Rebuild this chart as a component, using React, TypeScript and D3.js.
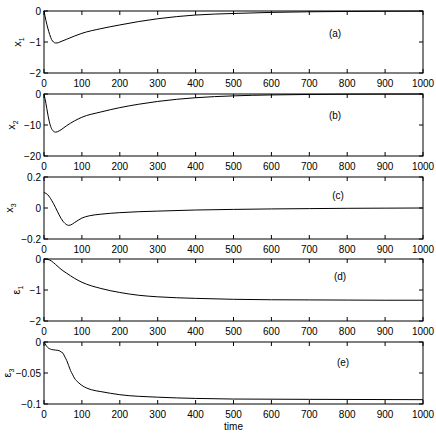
import React from "react";
import * as d3 from "d3";

// time axis ticks
const timeTicks = [0, 100, 200, 300, 400, 500, 600, 700, 800, 900, 1000];

// x1 state
const x1Time = [0, 5, 10, 15, 20, 25, 30, 35, 40, 50, 60, 80, 100, 150, 200, 250, 300, 400, 500, 600, 700, 800, 900, 1000];
const x1Vals = [0, -0.3, -0.55, -0.76, -0.92, -1.0, -1.03, -1.03, -1.01, -0.96, -0.91, -0.81, -0.72, -0.57, -0.45, -0.34, -0.25, -0.13, -0.08, -0.045, -0.025, -0.015, -0.008, -0.004];

// x2 state
const x2Time = [0, 5, 10, 15, 20, 25, 30, 35, 40, 50, 60, 80, 100, 150, 200, 250, 300, 400, 500, 600, 700, 800, 900, 1000];
const x2Vals = [0, -3, -6.5, -9.4, -11.2, -12.0, -12.3, -12.2, -11.9, -11.1, -10.2, -8.7, -7.5, -5.8, -4.4, -3.3, -2.4, -1.2, -0.6, -0.3, -0.15, -0.07, -0.03, -0.01];

// x3 state
const x3Time = [0, 10, 20, 30, 40, 50, 60, 65, 70, 80, 100, 120, 150, 200, 300, 400, 500, 600, 700, 800, 900, 1000];
const x3Vals = [0.1, 0.085, 0.05, 0.005, -0.045, -0.085, -0.108, -0.112, -0.11, -0.095, -0.065, -0.05, -0.04, -0.03, -0.02, -0.013, -0.009, -0.006, -0.004, -0.002, -0.001, 0];

// epsilon 1
const e1Time = [0, 10, 20, 30, 40, 50, 60, 80, 100, 150, 200, 250, 300, 400, 500, 600, 700, 800, 900, 1000];
const e1Vals = [0, -0.01, -0.07, -0.17, -0.28, -0.38, -0.46, -0.62, -0.75, -0.95, -1.08, -1.17, -1.22, -1.27, -1.3, -1.315, -1.32, -1.325, -1.33, -1.33];

// epsilon 3
const e3Time = [0, 5, 10, 20, 30, 40, 45, 50, 55, 60, 65, 70, 75, 80, 90, 100, 125, 150, 200, 300, 400, 500, 700, 1000];
const e3Vals = [0, -0.005, -0.009, -0.012, -0.013, -0.014, -0.016, -0.018, -0.024, -0.03, -0.038, -0.046, -0.052, -0.058, -0.065, -0.07, -0.077, -0.08, -0.085, -0.089, -0.091, -0.092, -0.0925, -0.093];

const panels = [
  { name: "x", sub: "1", tag: "(a)", t: x1Time, v: x1Vals, domain: [-2, 0], ticks: [-2, -1, 0], labels: ["\u22122", "\u22121", "0"], top: 11, labelX: 21, tagX: 335, tagY: 33 },
  { name: "x", sub: "2", tag: "(b)", t: x2Time, v: x2Vals, domain: [-20, 0], ticks: [-20, -10, 0], labels: ["\u221220", "\u221210", "0"], top: 94, labelX: 15, tagX: 335, tagY: 115 },
  { name: "x", sub: "3", tag: "(c)", t: x3Time, v: x3Vals, domain: [-0.2, 0.2], ticks: [-0.2, 0, 0.2], labels: ["\u22120.2", "0", "0.2"], top: 177, labelX: 13, tagX: 338, tagY: 195 },
  { name: "\u03b5", sub: "1", tag: "(d)", t: e1Time, v: e1Vals, domain: [-2, 0], ticks: [-2, -1, 0], labels: ["\u22122", "\u22121", "0"], top: 259, labelX: 20, tagX: 340, tagY: 276 },
  { name: "\u03b5", sub: "3", tag: "(e)", t: e3Time, v: e3Vals, domain: [-0.1, 0], ticks: [-0.1, -0.05, 0], labels: ["\u22120.1", "\u22120.05", "0"], top: 342, labelX: 11, tagX: 343, tagY: 362 },
];

const left = 44;
const right = 423;
const panelH = 62;
const tickLen = 4;
const font = "'Liberation Sans', Arial, sans-serif";

function Panel({ p }) {
  const x = d3.scaleLinear().domain([0, 1000]).range([left, right]);
  const y = d3.scaleLinear().domain(p.domain).range([p.top + panelH, p.top]);
  const pts = p.t.map((t, i) => [t, p.v[i]]);
  const line = d3
    .line()
    .x((d) => x(d[0]))
    .y((d) => y(d[1]))
    .curve(d3.curveMonotoneX);
  const bottom = p.top + panelH;

  return (
    <g>
      <rect x={left} y={p.top} width={right - left} height={panelH} fill="white" stroke="black" strokeWidth={1} />
      {timeTicks.map((t) => (
        <g key={"xt" + t}>
          <line x1={x(t)} x2={x(t)} y1={bottom} y2={bottom - tickLen} stroke="black" />
          <line x1={x(t)} x2={x(t)} y1={p.top} y2={p.top + tickLen} stroke="black" />
          <text x={x(t)} y={bottom + 14} fontSize={10} textAnchor="middle" fontFamily={font}>
            {t}
          </text>
        </g>
      ))}
      {p.ticks.map((v, i) => (
        <g key={"yt" + i}>
          <line x1={left} x2={left + tickLen} y1={y(v)} y2={y(v)} stroke="black" />
          <line x1={right} x2={right - tickLen} y1={y(v)} y2={y(v)} stroke="black" />
          <text x={left - 3} y={y(v) + 3.5} fontSize={10} textAnchor="end" fontFamily={font}>
            {p.labels[i]}
          </text>
        </g>
      ))}
      <path d={line(pts)} fill="none" stroke="black" strokeWidth={1} />
      <text
        transform={`translate(${p.labelX}, ${p.top + panelH / 2}) rotate(-90)`}
        fontSize={11}
        textAnchor="middle"
        fontFamily={font}
      >
        {p.name}
        <tspan fontSize={7} dy={3}>{p.sub}</tspan>
      </text>
      <text x={p.tagX} y={p.tagY + 3.5} fontSize={10} textAnchor="middle" fontFamily={font}>
        {p.tag}
      </text>
    </g>
  );
}

export default function App() {
  return (
    <svg
      width={436}
      height={436}
      style={{ position: "absolute", left: 0, top: 0, background: "white" }}
    >
      <rect width={436} height={436} fill="white" />
      {panels.map((p) => (
        <Panel key={p.tag} p={p} />
      ))}
      <text x={(left + right) / 2} y={430} fontSize={10} textAnchor="middle" fontFamily={font}>
        time
      </text>
    </svg>
  );
}
